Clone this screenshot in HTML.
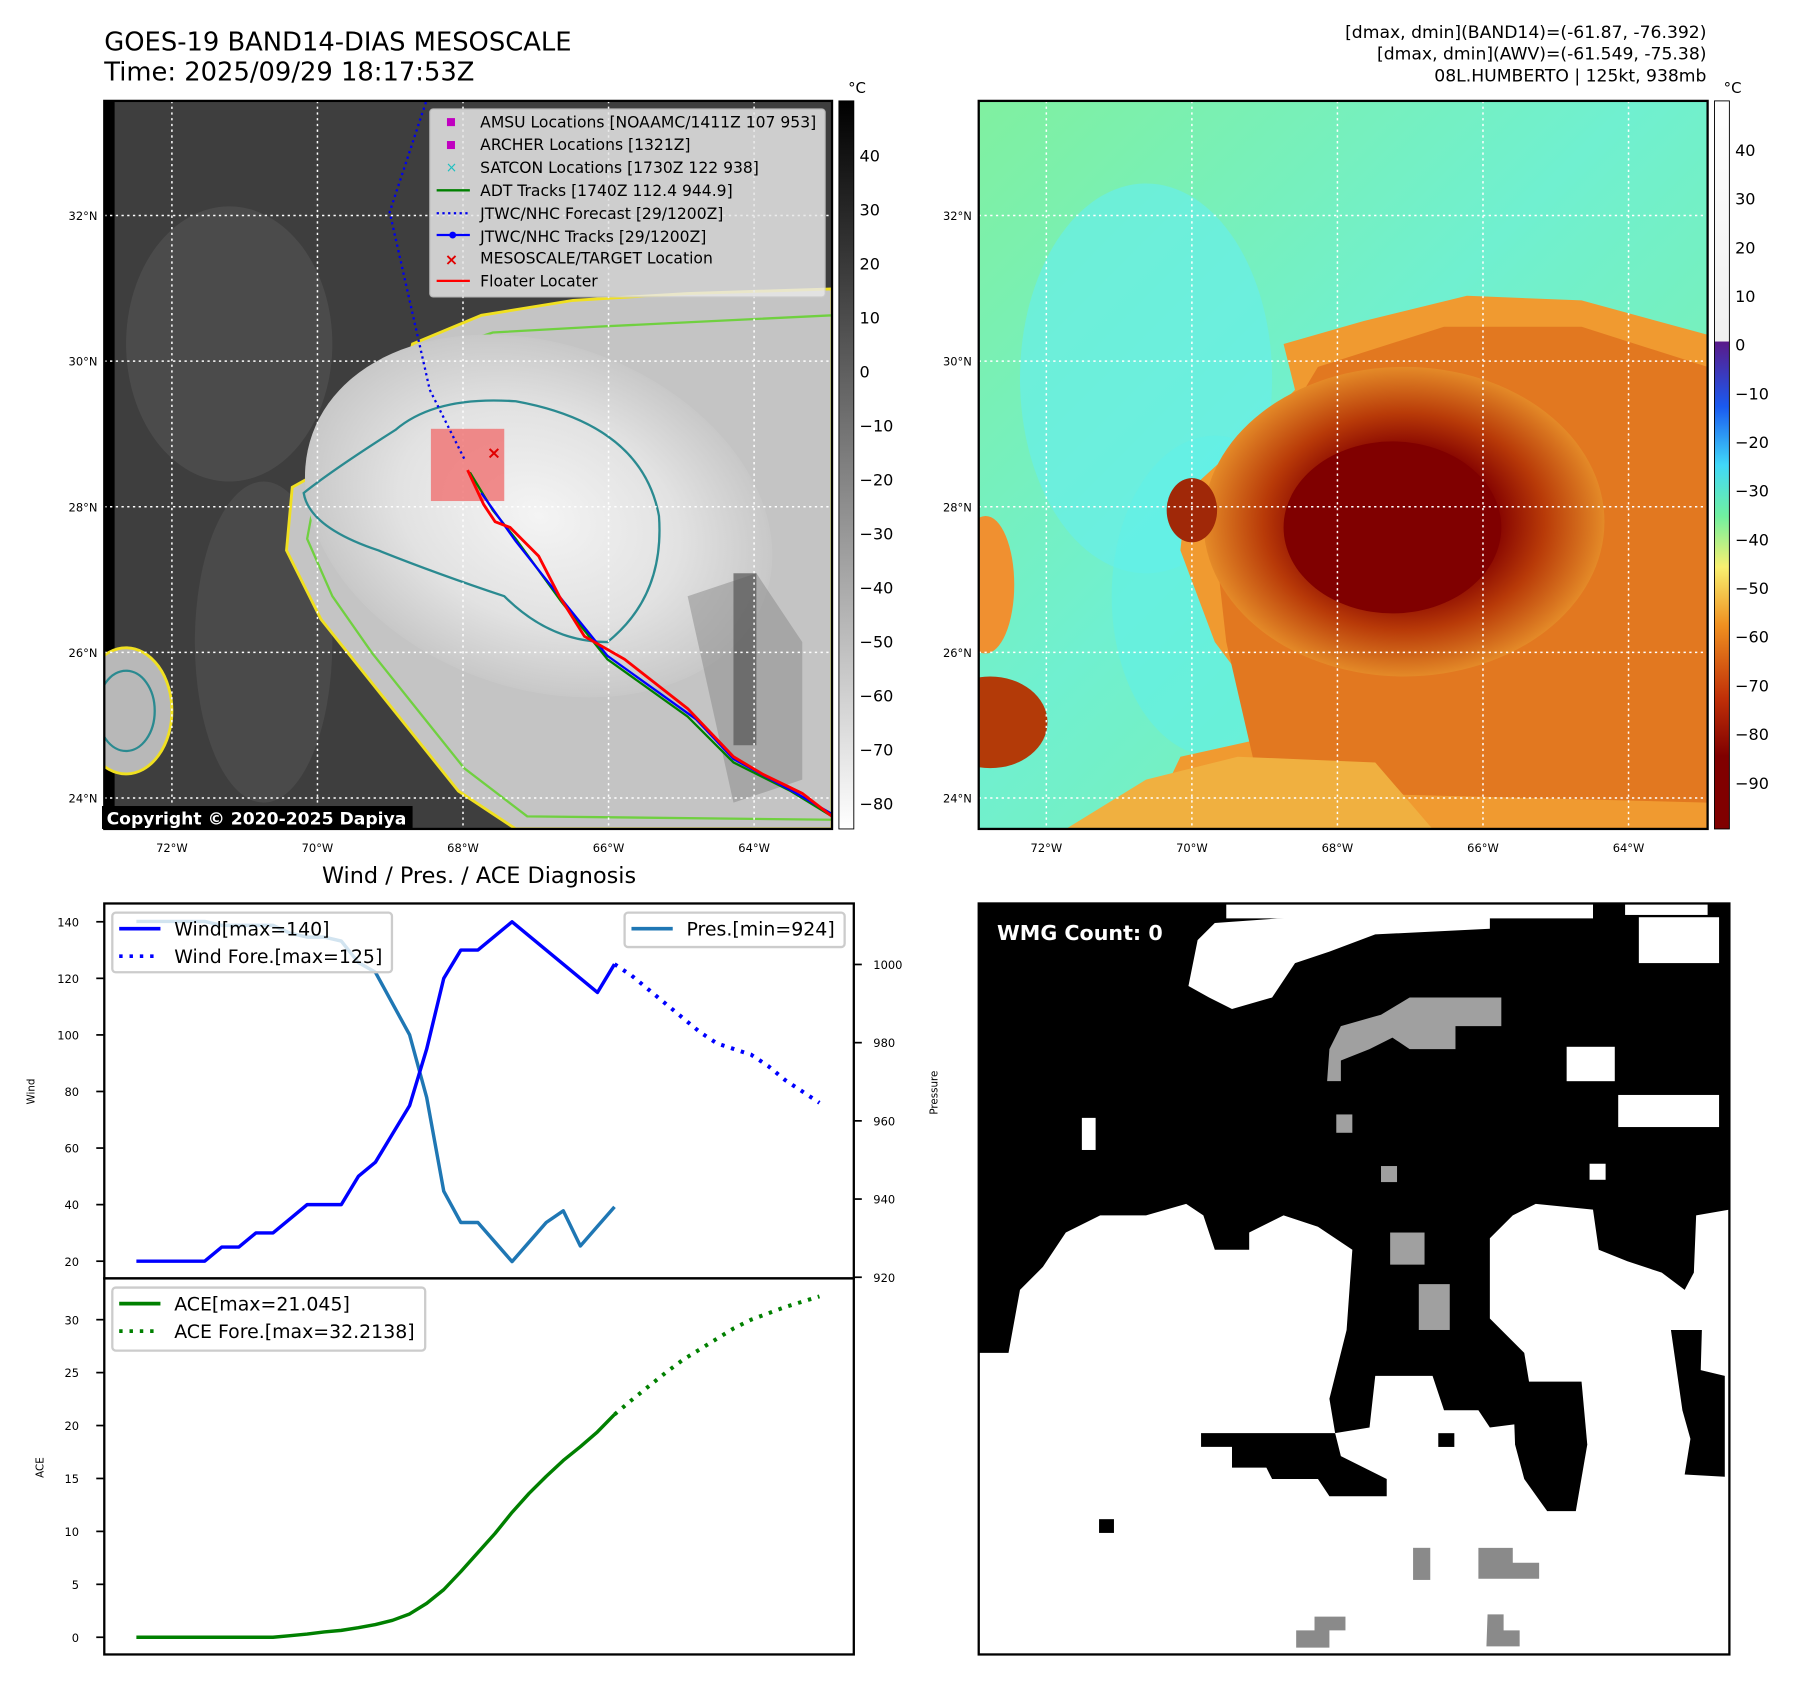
<!DOCTYPE html>
<html><head><meta charset="utf-8"><style>
html,body{margin:0;padding:0;background:#fff;}
svg{display:block;font-family:"DejaVu Sans","Liberation Sans",sans-serif;}
</style></head><body>
<svg id="root" width="1797" height="1690" viewBox="0 0 1568 1474" preserveAspectRatio="none" xmlns="http://www.w3.org/2000/svg">
<defs>
<radialGradient id="gstorm" cx="0.5" cy="0.5" r="0.5">
<stop offset="0" stop-color="#f4f4f4"/><stop offset="0.6" stop-color="#e2e2e2"/><stop offset="1" stop-color="#c8c8c8"/>
</radialGradient>
<radialGradient id="cstorm" cx="0.5" cy="0.5" r="0.5">
<stop offset="0" stop-color="#7a0000"/><stop offset="0.45" stop-color="#820000"/><stop offset="0.7" stop-color="#b83a08"/><stop offset="1" stop-color="#e48a28"/>
</radialGradient>
<linearGradient id="cbar1" x1="0" y1="0" x2="0" y2="1"><stop offset="0" stop-color="#000"/><stop offset="1" stop-color="#fff"/></linearGradient>
<linearGradient id="cbar2" x1="0" y1="0" x2="0" y2="1">
<stop offset="0" stop-color="#fff"/><stop offset="0.33" stop-color="#f0f0f0"/>
<stop offset="0.331" stop-color="#5a1a8a"/><stop offset="0.42" stop-color="#1a5af0"/><stop offset="0.5" stop-color="#40d8f8"/><stop offset="0.57" stop-color="#70f0a0"/><stop offset="0.64" stop-color="#f8f070"/><stop offset="0.72" stop-color="#f09020"/><stop offset="0.82" stop-color="#c03008"/><stop offset="0.9" stop-color="#800000"/><stop offset="1" stop-color="#800000"/>
</linearGradient>
<linearGradient id="bgcol" x1="0" y1="0" x2="1" y2="1"><stop offset="0" stop-color="#80f0a0"/><stop offset="0.45" stop-color="#70f0d0"/><stop offset="1" stop-color="#80f0a0"/></linearGradient>
<clipPath id="clipL"><rect x="91" y="88" width="635" height="635"/></clipPath>
<clipPath id="clipR"><rect x="854" y="88" width="636" height="635"/></clipPath>
</defs>

<text x="91" y="44" font-size="22.5">GOES-19 BAND14-DIAS MESOSCALE</text>
<text x="91" y="70" font-size="22.5">Time: 2025/09/29 18:17:53Z</text>
<g font-size="15" text-anchor="end">
<text x="1489" y="33">[dmax, dmin](BAND14)=(-61.87, -76.392)</text>
<text x="1489" y="52">[dmax, dmin](AWV)=(-61.549, -75.38)</text>
<text x="1489" y="71">08L.HUMBERTO | 125kt, 938mb</text>
</g>

<g clip-path="url(#clipL)">
<rect x="91" y="88" width="635" height="635" fill="#3e3e3e"/>
<rect x="91" y="88" width="9" height="635" fill="#000"/>
<ellipse cx="200" cy="300" rx="90" ry="120" fill="#555" opacity="0.6"/>
<ellipse cx="230" cy="560" rx="60" ry="140" fill="#4a4a4a"/>
<path d="M360,300 L420,275 L500,262 L600,256 L726,252 L726,723 L450,723 L400,690 L360,640 L320,590 L280,540 L250,480 L255,425 L300,400 L345,370 Z" fill="#c4c4c4" stroke="#f0e020" stroke-width="2.5"/>
<path d="M370,310 L430,290 L520,285 L726,275 L726,715 L460,712 L405,670 L365,620 L325,570 L290,520 L268,470 L275,432 L320,405 L355,375 Z" fill="none" stroke="#70d040" stroke-width="2"/>
<ellipse cx="470" cy="450" rx="210" ry="150" fill="url(#gstorm)" transform="rotate(20 470 450)"/>
<path d="M345,375 Q380,345 450,350 Q560,370 575,450 Q580,520 530,560 Q480,560 440,520 Q380,500 330,480 Q270,460 265,430 Q290,410 345,375 Z" fill="none" stroke="#2a8a90" stroke-width="2"/>
<path d="M600,520 L660,500 L700,560 L700,680 L640,700 Z" fill="#888" opacity="0.5"/>
<rect x="640" y="500" width="20" height="150" fill="#555" opacity="0.7"/>
<ellipse cx="110" cy="620" rx="40" ry="55" fill="#b8b8b8" stroke="#f0e020" stroke-width="2.5"/>
<ellipse cx="110" cy="620" rx="25" ry="35" fill="none" stroke="#2a8a90" stroke-width="2"/>
<g stroke="#fff" stroke-width="1.3" stroke-dasharray="2,3" fill="none">
<line x1="150" y1="88" x2="150" y2="723"/><line x1="277" y1="88" x2="277" y2="723"/><line x1="404" y1="88" x2="404" y2="723"/><line x1="531" y1="88" x2="531" y2="723"/><line x1="658" y1="88" x2="658" y2="723"/>
<line x1="91" y1="188" x2="726" y2="188"/><line x1="91" y1="315" x2="726" y2="315"/><line x1="91" y1="442" x2="726" y2="442"/><line x1="91" y1="569" x2="726" y2="569"/><line x1="91" y1="696" x2="726" y2="696"/>
</g>
<rect x="376" y="374" width="64" height="63" fill="#f07070" opacity="0.8"/>
<polyline points="405,400 375,340 340,185 372,88" fill="none" stroke="#0000ee" stroke-width="2" stroke-dasharray="2,3"/>
<polyline points="410,412 430,445 450,470 490,525 530,575 600,625 640,665 690,690 726,712" fill="none" stroke="#008000" stroke-width="2"/>
<polyline points="420,430 450,472 492,525 530,572 607,627 640,662 695,692 726,710" fill="none" stroke="#0000ff" stroke-width="2"/>
<polyline points="408,410 422,440 432,455 445,460 470,485 488,520 510,555 545,575 600,618 640,660 665,675 700,692 726,712" fill="none" stroke="#ff0000" stroke-width="2.5"/>
<text x="431" y="400" font-size="15" fill="#e00000" font-weight="bold" text-anchor="middle">×</text>
</g>
<rect x="91" y="88" width="635" height="635" fill="none" stroke="#000" stroke-width="2"/>
<g>
<rect x="375" y="95" width="345" height="164" fill="#e8e8e8" opacity="0.85" stroke="#ccc" rx="3"/>
<g font-size="13.6">
<rect x="390" y="103" width="7" height="7" fill="#c000c0"/><text x="419" y="111">AMSU Locations [NOAAMC/1411Z 107 953]</text>
<rect x="390" y="123" width="7" height="7" fill="#c000c0"/><text x="419" y="131">ARCHER Locations [1321Z]</text>
<text x="394" y="150" fill="#20c0c0" text-anchor="middle" font-size="12">×</text><text x="419" y="151">SATCON Locations [1730Z 122 938]</text>
<line x1="381" y1="166" x2="410" y2="166" stroke="#008000" stroke-width="2"/><text x="419" y="171">ADT Tracks [1740Z 112.4 944.9]</text>
<line x1="381" y1="186" x2="410" y2="186" stroke="#0000ee" stroke-width="2" stroke-dasharray="2,3"/><text x="419" y="191">JTWC/NHC Forecast [29/1200Z]</text>
<line x1="381" y1="205" x2="410" y2="205" stroke="#0000ff" stroke-width="2"/><circle cx="395" cy="205" r="3" fill="#00f"/><text x="419" y="211">JTWC/NHC Tracks [29/1200Z]</text>
<text x="394" y="231" fill="#e00000" text-anchor="middle" font-weight="bold" font-size="14">×</text><text x="419" y="230">MESOSCALE/TARGET Location</text>
<line x1="381" y1="245" x2="410" y2="245" stroke="#ff0000" stroke-width="2"/><text x="419" y="250">Floater Locater</text>
</g></g>
<rect x="89" y="703" width="271" height="20" fill="#000"/>
<text x="93" y="719" font-size="15" font-weight="bold" fill="#fff">Copyright © 2020-2025 Dapiya</text>

<g clip-path="url(#clipR)">
<rect x="854" y="88" width="636" height="635" fill="url(#bgcol)"/>
<ellipse cx="1000" cy="330" rx="110" ry="170" fill="#68eee8" opacity="0.7"/>
<ellipse cx="1060" cy="520" rx="90" ry="140" fill="#60f0e8" opacity="0.6"/>
<path d="M1120,300 L1190,280 L1280,258 L1380,262 L1490,292 L1490,723 L1000,723 L1030,660 L1120,640 L1060,560 L1030,480 L1035,430 L1090,380 L1130,340 Z" fill="#f09a30"/>
<path d="M1150,320 L1260,285 L1380,285 L1490,320 L1490,700 L1100,690 L1070,560 L1060,470 Z" fill="#e27820"/>
<ellipse cx="1225" cy="455" rx="175" ry="135" fill="url(#cstorm)"/>
<ellipse cx="1215" cy="460" rx="95" ry="75" fill="#800000"/>
<ellipse cx="1040" cy="445" rx="22" ry="28" fill="#a02808"/>
<ellipse cx="864" cy="630" rx="50" ry="40" fill="#b33a08"/>
<ellipse cx="860" cy="510" rx="25" ry="60" fill="#f09030"/>
<path d="M930,723 L1000,680 L1080,660 L1200,665 L1250,723 Z" fill="#f0b040"/>
<g stroke="#fff" stroke-width="1.3" stroke-dasharray="2,3" fill="none">
<line x1="913" y1="88" x2="913" y2="723"/><line x1="1040" y1="88" x2="1040" y2="723"/><line x1="1167" y1="88" x2="1167" y2="723"/><line x1="1294" y1="88" x2="1294" y2="723"/><line x1="1421" y1="88" x2="1421" y2="723"/>
<line x1="854" y1="188" x2="1490" y2="188"/><line x1="854" y1="315" x2="1490" y2="315"/><line x1="854" y1="442" x2="1490" y2="442"/><line x1="854" y1="569" x2="1490" y2="569"/><line x1="854" y1="696" x2="1490" y2="696"/>
</g>
</g>
<rect x="854" y="88" width="636" height="635" fill="none" stroke="#000" stroke-width="2"/>

<g font-size="10" id="mapTicks"></g>

<rect x="732" y="88" width="13" height="635" fill="url(#cbar1)" stroke="#000" stroke-width="0.8"/>
<rect x="1496" y="88" width="13" height="635" fill="url(#cbar2)" stroke="#000" stroke-width="0.8"/>
<text x="740" y="81" font-size="13">°C</text>
<text x="1504" y="81" font-size="13">°C</text>
<g id="cbTicks" font-size="14"></g>

<text x="418" y="770" font-size="19.5" text-anchor="middle">Wind / Pres. / ACE Diagnosis</text>
<g id="charts"></g>

<g>
<rect x="854" y="788" width="655" height="655" fill="#fff"/>
<polygon fill="#000" points="854,788 1509,788 1509,1055 1480,1060 1478,1110 1470,1125 1450,1110 1420,1100 1395,1090 1390,1055 1340,1050 1320,1060 1300,1080 1300,1150 1330,1180 1340,1240 1300,1245 1290,1230 1260,1230 1250,1200 1200,1200 1195,1245 1165,1250 1160,1220 1175,1160 1180,1090 1150,1070 1120,1060 1090,1075 1090,1090 1060,1090 1050,1060 1035,1050 1000,1060 960,1060 930,1075 910,1105 890,1125 880,1180 854,1180"/>
<polygon fill="#000" points="1048,1250 1165,1250 1170,1270 1210,1290 1210,1305 1160,1305 1150,1290 1110,1290 1105,1280 1075,1280 1075,1262 1048,1262"/>
<polygon fill="#000" points="1320,1205 1380,1205 1385,1260 1375,1318 1350,1318 1330,1290 1322,1260"/>
<polygon fill="#000" points="1458,1160 1485,1160 1484,1195 1505,1200 1505,1288 1470,1286 1475,1255 1468,1230"/>
<rect x="959" y="1325" width="13" height="12" fill="#000"/>
<rect x="1255" y="1250" width="14" height="12" fill="#000"/>
<g fill="#fff">
<rect x="1070" y="788" width="320" height="13"/>
<rect x="1418" y="788" width="72" height="10"/>
<polygon points="1045,820 1060,805 1130,800 1220,795 1300,790 1300,810 1200,815 1160,830 1130,840 1110,870 1075,880 1055,870 1037,860"/>
<rect x="1430" y="800" width="70" height="40"/>
<rect x="1367" y="913" width="42" height="30"/>
<rect x="1412" y="955" width="88" height="28"/>
<rect x="944" y="975" width="12" height="28"/>
<rect x="1387" y="1015" width="14" height="14"/>
</g>
<g fill="#a0a0a0">
<polygon points="1160,915 1170,895 1205,885 1230,870 1310,870 1310,895 1270,895 1270,915 1230,915 1215,905 1195,915 1170,925 1170,943 1158,943"/>
<rect x="1166" y="972" width="14" height="16"/>
<rect x="1205" y="1017" width="14" height="14"/>
<rect x="1213" y="1075" width="30" height="28"/>
<rect x="1238" y="1120" width="27" height="40"/>
</g>
<g fill="#8a8a8a">
<rect x="1233" y="1350" width="15" height="28"/>
<polygon points="1290,1350 1320,1350 1320,1363 1343,1363 1343,1377 1290,1377"/>
<polygon points="1147,1410 1174,1410 1174,1422 1160,1422 1160,1437 1131,1437 1131,1422 1147,1422"/>
<polygon points="1298,1408 1312,1408 1312,1422 1326,1422 1326,1436 1297,1436"/>
</g>
<rect x="854" y="788" width="655" height="655" fill="none" stroke="#000" stroke-width="2"/>
<text x="870" y="820" font-size="18" font-weight="bold" fill="#fff">WMG Count: 0</text>
</g>
</svg>
<script>
// ---- chart data ----
const obsIndex = [0,1,2,3,4,5,6,7,8,9,10,11,12,13,14,15,16,17,18,19,20,21,22,23,24,25,26,27,28];
const windObs = [20,20,20,20,20,25,25,30,30,35,40,40,40,50,55,65,75,95,120,130,130,135,140,135,130,125,120,115,125];
const windFore = [125,121,116,111,106,101,97,95,93,89,84,80,76];
const presObs = [1011,1011,1011,1011,1011,1010,1010,1010,1010,1008,1007,1007,1006,1000.5,998,990,982,966,942,934,934,929,924,929,934,937,928,933,938];
const aceObs = [0,0,0,0,0,0,0,0,0,0.15,0.3,0.5,0.65,0.9,1.2,1.6,2.2,3.2,4.5,6.2,8.0,9.8,11.8,13.6,15.2,16.7,18.0,19.4,21.045];
const aceFore = [21.045,22.4,23.7,25.0,26.2,27.2,28.2,29.2,30.0,30.6,31.2,31.7,32.2];
const windTicks = [20,40,60,80,100,120,140];
const presTicks = [920,940,960,980,1000];
const aceTicks = [0,5,10,15,20,25,30];
const gray1Ticks = [40,30,20,10,0,-10,-20,-30,-40,-50,-60,-70,-80];
const color2Ticks = [40,30,20,10,0,-10,-20,-30,-40,-50,-60,-70,-80,-90];
const lonLabels = ['72°W','70°W','68°W','66°W','64°W'];
const latLabels = ['32°N','30°N','28°N','26°N','24°N'];

const NS='http://www.w3.org/2000/svg';
function mk(tag, attrs, parent){const e=document.createElementNS(NS,tag);for(const k in attrs)e.setAttribute(k,attrs[k]);parent.appendChild(e);return e;}
const xIdx = i => 119 + i*14.9;
const yWind = v => 1100 - (v-20)*2.467;
const yPres = v => 1114 - (v-920)*3.41;
const yAce = v => 1428 - v*9.233;
const yGray = v => 136 + (40-v)*4.71;
const yColor = v => 131 + (40-v)*4.246;

const charts=document.getElementById('charts');
function line(xs, ys, color, dash, name){
  const p = mk('polyline',{points: xs.map((x,i)=>x+','+ys[i]).join(' '), fill:'none', stroke:color,'stroke-width':3,'stroke-linejoin':'round'},charts);
  if(dash){p.setAttribute('stroke-dasharray','3,6');p.setAttribute('stroke-width','3.5');}
  
  
}
line(obsIndex.map(xIdx), presObs.map(yPres), '#1f77b4', false, 'pressure-line');
line(obsIndex.map(xIdx), windObs.map(yWind), '#0000ff', false, 'wind-line');
line(windFore.map((v,i)=>xIdx(28+i)), windFore.map(yWind), '#0000ff', true, 'wind-forecast-line');
line(obsIndex.map(xIdx), aceObs.map(yAce), '#008000', false, 'ace-line');
line(aceFore.map((v,i)=>xIdx(28+i)), aceFore.map(yAce), '#008000', true, 'ace-forecast-line');

const f1=mk('rect',{x:91,y:788,width:654,height:327,fill:'none',stroke:'#000','stroke-width':2},charts);


const f2=mk('rect',{x:91,y:1115,width:654,height:328,fill:'none',stroke:'#000','stroke-width':2},charts);



function tick(x1,y,x2,lx,anchor,label,name,fs){
  mk('line',{x1:x1,y1:y,x2:x2,y2:y,stroke:'#000','stroke-width':1.5},charts);
  const t=mk('text',{x:lx,y:y+4,'font-size':fs||10,'text-anchor':anchor},charts);
  t.textContent=label;
  
  
}
windTicks.forEach(v=>tick(84,yWind(v),91,69,'end',v,'wind-tick-label'));
presTicks.forEach(v=>tick(745,yPres(v),752,762,'start',v,'pressure-tick-label'));
aceTicks.forEach(v=>tick(84,yAce(v),91,69,'end',v,'ace-tick-label'));

function rotText(x,y,txt,name){
  const t=mk('text',{x:x,y:y,'font-size':9,'text-anchor':'middle',transform:`rotate(-90 ${x} ${y})`},charts);
  t.textContent=txt;
  
  
}
rotText(30,952,'Wind','wind-axis-title');
rotText(818,953,'Pressure','pressure-axis-title');
rotText(38,1280,'ACE','ace-axis-title');

function legend(x,y,w,h,entries,name){
  const g=mk('g',{},charts);
  
  
  mk('rect',{x:x,y:y,width:w,height:h,fill:'#fff','fill-opacity':0.8,stroke:'#ccc','stroke-width':2,rx:3},g);
  entries.forEach((e,i)=>{
    const yy=y+14+i*24;
    const l=mk('line',{x1:x+6,y1:yy,x2:x+42,y2:yy,stroke:e[1],'stroke-width':3.2},g);
    if(e[2]) l.setAttribute('stroke-dasharray','3,6');
    const t=mk('text',{x:x+54,y:yy+6,'font-size':16.5},g);
    t.textContent=e[0];
  });
}
legend(98,796,244,52,[['Wind[max=140]','#0000ff',false],['Wind Fore.[max=125]','#0000ff',true]],'wind-legend');
legend(545,796,192,30,[['Pres.[min=924]','#1f77b4',false]],'pressure-legend');
legend(98,1123,273,55,[['ACE[max=21.045]','#008000',false],['ACE Fore.[max=32.2138]','#008000',true]],'ace-legend');

const mt=document.getElementById('mapTicks');
lonLabels.forEach((l,i)=>{
  [150,913].forEach(x0=>{
    const t=mk('text',{x:x0+i*127,y:743,'text-anchor':'middle','font-size':10},mt);
    t.textContent=l;
    
    
  });
});
latLabels.forEach((l,i)=>{
  [85,848].forEach(x0=>{
    const t=mk('text',{x:x0,y:192+i*127,'text-anchor':'end','font-size':10},mt);
    t.textContent=l;
    
    
  });
});
const cb=document.getElementById('cbTicks');
gray1Ticks.forEach(v=>{
  const t=mk('text',{x:750,y:yGray(v)+5,'font-size':14},cb);
  t.textContent=(v<0?'\u2212'+(-v):v);
  
  
});
color2Ticks.forEach(v=>{
  const t=mk('text',{x:1514,y:yColor(v)+5,'font-size':14},cb);
  t.textContent=(v<0?'\u2212'+(-v):v);
  
  
});
</script>
</body></html>
